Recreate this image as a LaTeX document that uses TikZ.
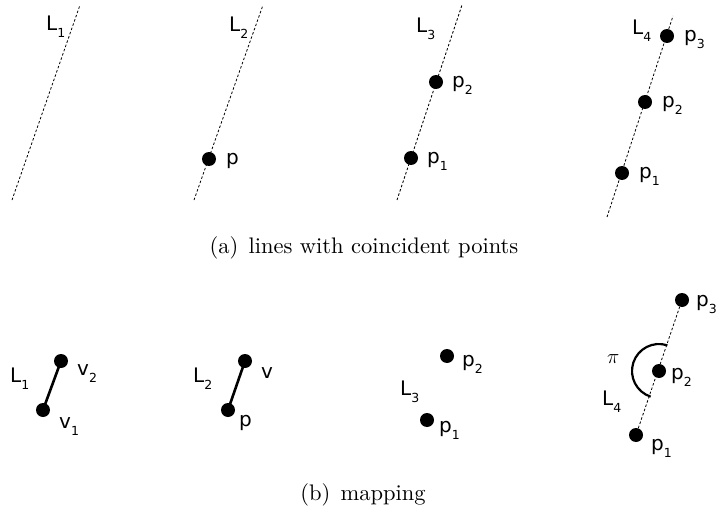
\documentclass[tikz,border=0pt]{standalone}
\usepackage{fontspec}
\newfontfamily\labfont{DejaVu Sans}
\newfontfamily\capfont{lmroman10-regular.otf}
\newcommand\lsub[1]{\raisebox{-7pt}{\fontsize{12.5}{13}\selectfont #1}}
\begin{document}
\begin{tikzpicture}[x=1pt,y=-1pt,
  dot/.style={circle,fill=black,inner sep=0pt,minimum size=14pt},
  lab/.style={anchor=base west,inner sep=0pt,font=\labfont\fontsize{20}{22}\selectfont},
  guide/.style={line width=0.8pt,dash pattern=on 2.5pt off 2pt},
  seg/.style={line width=2.6pt},
  captext/.style={anchor=base,inner sep=0pt,font=\capfont\fontsize{22.5}{26}\selectfont}]
\useasboundingbox (0,0) rectangle (718,511);

% ---------- (a) ----------
% L1
\coordinate (a1s) at (12,200);
\coordinate (a1e) at (80,5);
\draw[guide] (a1s) -- (a1e);
\node[lab] (a1L) at (46,31) {L\lsub{1}};

% L2
\coordinate (a2s) at (194,200);
\coordinate (a2e) at (263,5);
\draw[guide] (a2s) -- (a2e);
\node[dot] (a2p) at (209,159) {};
\node[lab] (a2L) at (229,32) {L\lsub{2}};
\node[lab] (a2pl) at (226,164.5) {p};

% L3
\coordinate (a3s) at (397,200);
\coordinate (a3e) at (462,5);
\draw[guide] (a3s) -- (a3e);
\node[dot] (a3p2) at (436,82) {};
\node[dot] (a3p1) at (411,158) {};
\node[lab] (a3L) at (416,33) {L\lsub{3}};
\node[lab] (a3p2l) at (452,87.5) {p\lsub{2}};
\node[lab] (a3p1l) at (427,163.5) {p\lsub{1}};

% L4
\coordinate (a4s) at (607,217);
\coordinate (a4e) at (673,16);
\draw[guide] (a4s) -- (a4e);
\node[dot] (a4p3) at (667,36) {};
\node[dot] (a4p2) at (645,102) {};
\node[dot] (a4p1) at (622,173) {};
\node[lab] (a4L) at (632,35) {L\lsub{4}};
\node[lab] (a4p3l) at (684,41.5) {p\lsub{3}};
\node[lab] (a4p2l) at (662,107.5) {p\lsub{2}};
\node[lab] (a4p1l) at (639,178.5) {p\lsub{1}};

\node[captext] (capa) at (364,253) {(a)\hspace{0.45em}lines with coincident points};

% ---------- (b) ----------
% L1
\node[dot] (b1v2) at (61,361) {};
\node[dot] (b1v1) at (43,410) {};
\draw[seg] (b1v1.center) -- (b1v2.center);
\node[lab] (b1L) at (10,382) {L\lsub{1}};
\node[lab] (b1v2l) at (77,375) {v\lsub{2}};
\node[lab] (b1v1l) at (59,428) {v\lsub{1}};

% L2
\node[dot] (b2v) at (245,361) {};
\node[dot] (b2p) at (228,410) {};
\draw[seg] (b2p.center) -- (b2v.center);
\node[lab] (b2L) at (193,382) {L\lsub{2}};
\node[lab] (b2vl) at (261,378) {v};
\node[lab] (b2pl) at (239,426) {p};

% L3
\node[dot] (b3p2) at (447,356) {};
\node[dot] (b3p1) at (427,420) {};
\node[lab] (b3L) at (400,395) {L\lsub{3}};
\node[lab] (b3p2l) at (462,366) {p\lsub{2}};
\node[lab] (b3p1l) at (439,432) {p\lsub{1}};

% L4
\node[dot] (b4p3) at (682,300) {};
\node[dot] (b4p2) at (659,371) {};
\node[dot] (b4p1) at (636,435) {};
\draw[guide] (b4p1) -- (b4p3);
\draw[line width=2.2pt] (b4p2.center) ++(72:27pt) arc[start angle=72,end angle=252,radius=27pt];
\node[lab] (b4pi) at (607,363) {\fontsize{21}{22}\selectfont$\pi$};
\node[lab] (b4L) at (602,405) {L\lsub{4}};
\node[lab] (b4p3l) at (696,306) {p\lsub{3}};
\node[lab] (b4p2l) at (671,379) {p\lsub{2}};
\node[lab] (b4p1l) at (651,450) {p\lsub{1}};

\node[captext] (capb) at (363,500) {(b)\hspace{0.45em}mapping};
\end{tikzpicture}
\end{document}
